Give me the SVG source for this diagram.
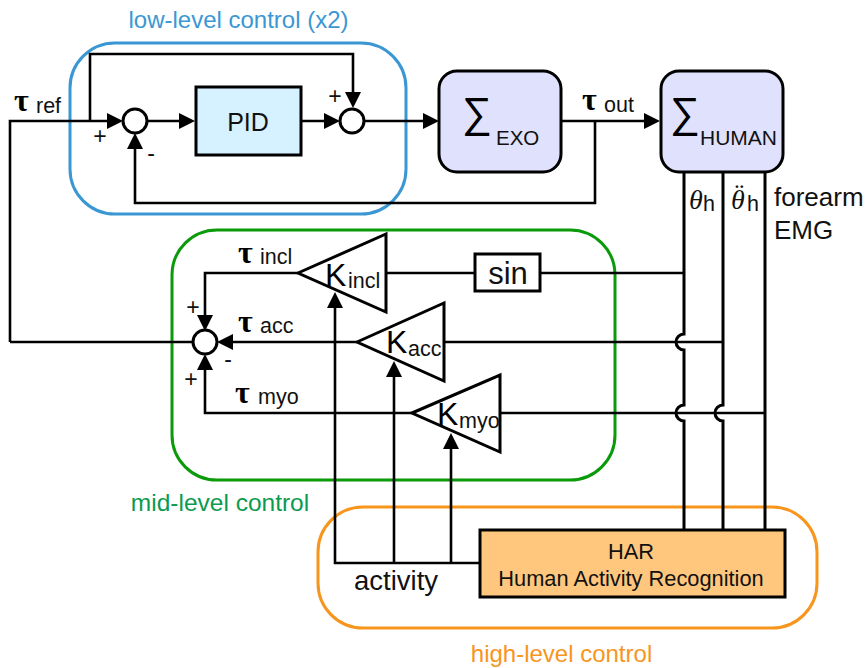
<svg xmlns="http://www.w3.org/2000/svg" width="866" height="668" viewBox="0 0 866 668">
<defs>
<marker id="arr" markerUnits="userSpaceOnUse" markerWidth="18" markerHeight="18" viewBox="0 0 18 18" refX="10" refY="9" orient="auto"><path d="M0 1L16 9L0 17z" fill="#000"/></marker>
</defs>
<style>
text{font-family:"Liberation Sans",Arial,sans-serif;fill:#111}
.w{fill:none;stroke:#000;stroke-width:2.6}
.v{fill:none;stroke:#000;stroke-width:3}
.t{font-family:"Liberation Serif",serif;font-weight:bold;font-size:32px;fill:#000}
.s{font-size:21.5px}
.pm{font-size:23px}
.g{fill:none;stroke-width:3}
.b{stroke:#000;stroke-width:3}
.c{fill:#fff;stroke:#000;stroke-width:3}
.tri{fill:#fff;stroke:#000;stroke-width:3}
.th{font-family:"Liberation Serif",serif;font-style:italic;font-size:28px}
.K{font-size:32px}
.ks{font-size:21.5px}
</style>
<g id="group-low"><rect x="70" y="43" width="336" height="171" rx="45" class="g" stroke="#3b97d3"/><text x="238.500" y="28" text-anchor="middle" font-size="24" style="fill:#3b97d3">low-level control (x2)</text></g>
<g id="group-mid"><rect x="172" y="230" width="443" height="250" rx="45" class="g" stroke="#0a9a0a"/><text x="220" y="511" text-anchor="middle" font-size="24.500" style="fill:#0a9a50">mid-level control</text></g>
<g id="group-high"><rect x="318" y="507" width="499" height="121" rx="45" class="g" stroke="#f7951d"/><text x="561.500" y="662" text-anchor="middle" font-size="24" style="fill:#f7951d">high-level control</text></g>
<g id="connectors">
<path class="w" d="M10 342V121H117" marker-end="url(#arr)"/>
<path class="w" d="M90 121V54H353V102" marker-end="url(#arr)"/>
<path class="w" d="M147 121H189" marker-end="url(#arr)"/>
<path class="w" d="M301 121H334" marker-end="url(#arr)"/>
<path class="w" d="M364 121H433" marker-end="url(#arr)"/>
<path class="w" d="M561 121H654" marker-end="url(#arr)"/>
<path class="w" d="M595 121V203H135V139" marker-end="url(#arr)"/>
<path class="w" d="M10 342H193"/>
<path class="w" d="M298 273H205V325" marker-end="url(#arr)"/>
<path class="w" d="M357 342H223" marker-end="url(#arr)"/>
<path class="w" d="M412 413H205V360" marker-end="url(#arr)"/>
<path class="w" d="M386 273H684"/>
<path class="w" d="M444 342H723"/>
<path class="w" d="M500 413H765"/>
<path class="w" d="M480 563H335V298" marker-end="url(#arr)"/>
<path class="w" d="M394 563V367" marker-end="url(#arr)"/>
<path class="w" d="M451 563V439" marker-end="url(#arr)"/>
<path class="v" d="M684 172V334A8 8 0 0 0 684 350V405A8 8 0 0 0 684 421V530"/>
<path class="v" d="M723 172V405A8 8 0 0 0 723 421V530"/>
<path class="v" d="M765 172V530"/>
</g>
<g id="sum1"><circle cx="135" cy="121" r="12" class="c"/><text x="100" y="144" text-anchor="middle" class="pm">+</text><text x="151" y="161" text-anchor="middle" class="pm">-</text></g>
<g id="pid"><rect x="196" y="87" width="105" height="68" fill="#d6f1ff" class="b"/><text x="248" y="131" text-anchor="middle" font-size="25">PID</text></g>
<g id="sum2"><circle cx="352" cy="121" r="12" class="c"/><text x="335" y="104" text-anchor="middle" class="pm">+</text></g>
<g id="exo"><rect x="439" y="71" width="122" height="101" rx="18" fill="#e0e2fd" class="b"/><text x="462" y="127" font-size="42" style="fill:#000">∑</text><text x="496" y="145" font-size="20.500">EXO</text></g>
<g id="human"><rect x="661" y="71" width="122" height="101" rx="18" fill="#e0e2fd" class="b"/><text x="670" y="127" font-size="42" style="fill:#000">∑</text><text x="700" y="145" font-size="21">HUMAN</text></g>
<g id="kincl"><path d="M298 273L386 234V312z" class="tri"/><text x="325" y="286" class="K" style="fill:#000">K</text><text x="348" y="288" class="ks">incl</text></g>
<g id="sin"><rect x="475" y="254" width="65" height="37" fill="#fff" class="b"/><text x="508" y="284" text-anchor="middle" font-size="31">sin</text></g>
<g id="kacc"><path d="M357 342L444 303V381z" class="tri"/><text x="386" y="353" class="K" style="fill:#000">K</text><text x="408" y="356" class="ks">acc</text></g>
<g id="kmyo"><path d="M412 413L500 375V452z" class="tri"/><text x="437" y="425" class="K" style="fill:#000">K</text><text x="459" y="428" class="ks">myo</text></g>
<g id="sum3"><circle cx="205" cy="342" r="12" class="c"/><text x="193" y="315" text-anchor="middle" class="pm">+</text><text x="228" y="367" text-anchor="middle" class="pm">-</text><text x="191" y="387" text-anchor="middle" class="pm">+</text></g>
<g id="har"><rect x="480" y="530" width="305" height="67" fill="#ffc77d" class="b"/><text x="631" y="559" text-anchor="middle" font-size="21.800">HAR</text><text x="631" y="586" text-anchor="middle" font-size="21.800">Human Activity Recognition</text></g>
<g id="labels">
<text x="14" y="111" class="t">τ</text><text x="36" y="113" class="s">ref</text>
<text x="582" y="110" class="t">τ</text><text x="604" y="112" class="s">out</text>
<text x="238" y="263" class="t">τ</text><text x="260" y="264" class="s">incl</text>
<text x="238" y="332" class="t">τ</text><text x="260" y="333" class="s">acc</text>
<text x="235" y="403" class="t">τ</text><text x="258" y="404" class="s">myo</text>
<text x="689" y="209" class="th">θ</text><text x="703" y="211" class="s">h</text>
<text x="731" y="209" class="th">θ<tspan dx="-12" dy="-6">¨</tspan></text><text x="747" y="211" class="s">h</text>
<text x="774" y="206" font-size="26">forearm</text><text x="774" y="239" font-size="26">EMG</text>
<text x="354" y="590" font-size="27.500">activity</text>
</g>
</svg>
